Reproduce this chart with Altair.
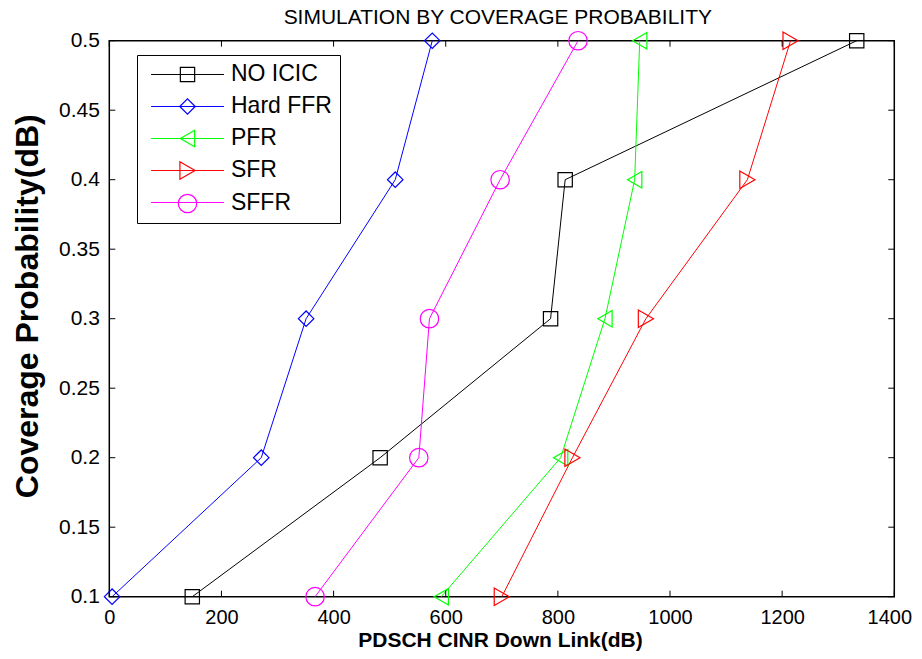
import altair as alt
import pandas as pd

series = ["NO ICIC", "Hard FFR", "PFR", "SFR", "SFFR"]
colors = ["#000000", "#0000FF", "#00FF00", "#FF0000", "#FF00FF"]
shapes = ["square", "diamond", "triangle-left", "triangle-right", "circle"]
marker_sizes = [205, 340, 380, 380, 306]

prob = [0.1, 0.2, 0.3, 0.4, 0.5]
no_icic = [148, 483, 787, 813, 1333]
hard_ffr = [5, 271, 351, 510, 576]
pfr = [592, 805, 884, 937, 946]
sfr = [700, 826, 957, 1138, 1215]
sffr = [367, 552, 571, 697, 836]

x_ticks = [0, 200, 400, 600, 800, 1000, 1200, 1400]
y_ticks = [0.1, 0.15, 0.2, 0.25, 0.3, 0.35, 0.4, 0.45, 0.5]

rows = []
for name, vals in zip(series, [no_icic, hard_ffr, pfr, sfr, sffr]):
    for p, v in zip(prob, vals):
        rows.append({"series": name, "line_key": name + " ", "cinr": v, "prob": p})
df = pd.DataFrame(rows)
line_keys = [n + " " for n in series]

W, H = 785, 556
FONT = "Liberation Sans"

xscale = alt.Scale(domain=[0, 1400], nice=False, zero=False)
yscale = alt.Scale(domain=[0.1, 0.5], nice=False, zero=False)

LEG_X, LEG_Y = 27.7, 14.3
common_leg = dict(
    title=None, orient="none", legendX=LEG_X, legendY=LEG_Y, padding=8,
    labelFont=FONT, labelFontSize=23, labelColor="black",
    symbolSize=380, symbolOffset=31, labelOffset=32, rowPadding=8,
)
# line part of the legend (drawn underneath, with frame)
legend_lines = alt.Legend(
    fillColor="white", strokeColor="black", labelOpacity=0,
    symbolType="M-3.74,0H3.74", symbolStrokeWidth=1, zindex=0, **common_leg,
)
# marker part of the legend (drawn on top, with labels)
legend_marks = alt.Legend(symbolStrokeWidth=1.2, zindex=1, **common_leg)

x_axis = alt.Axis(
    values=x_ticks, format="d", ticks=False, domain=False, grid=False,
    labelFont=FONT, labelFontSize=20, labelColor="black", labelPadding=11,
    labelFlush=False, labelOverlap=False,
    labelOffset={"condition": {"test": "datum.value === 1400", "value": -5}, "value": 0},
    title="PDSCH CINR Down Link(dB)", titleFont=FONT, titleFontSize=21,
    titleFontWeight="bold", titleColor="black", titleX=390.7, titleY=33,
    titleBaseline="top", titleAlign="center",
)
y_axis = alt.Axis(
    values=y_ticks, format="~g", ticks=False, domain=False, grid=False,
    labelFont=FONT, labelFontSize=21, labelColor="black", labelPadding=10,
    labelFlush=False, labelOverlap=False,
    title="Coverage Probability(dB)", titleFont=FONT, titleFontSize=32,
    titleFontWeight="bold", titleColor="black", titleX=-82, titleY=265,
    titleBaseline="middle", titleAlign="center",
)

X = alt.X("cinr:Q", scale=xscale, axis=x_axis)
Y = alt.Y("prob:Q", scale=yscale, axis=y_axis)

base = alt.Chart(df).encode(x=X, y=Y, order=alt.Order("prob:Q"))
lines = base.mark_line(strokeWidth=1).encode(
    color=alt.Color("line_key:N", scale=alt.Scale(domain=line_keys, range=colors), legend=legend_lines),
)
points = base.mark_point(filled=False, opacity=1, strokeWidth=1.2).encode(
    stroke=alt.Stroke("series:N", scale=alt.Scale(domain=series, range=colors), legend=legend_marks),
    shape=alt.Shape("series:N", scale=alt.Scale(domain=series, range=shapes), legend=legend_marks),
    size=alt.Size("series:N", scale=alt.Scale(domain=series, range=marker_sizes), legend=legend_marks),
)

xt = pd.DataFrame({"cinr": x_ticks})
yt = pd.DataFrame({"prob": y_ticks})
TL = 6
bottom_ticks = alt.Chart(xt).mark_rule(color="black", strokeWidth=1).encode(
    x=X, y=alt.value(H), y2=alt.value(H - TL))
top_ticks = alt.Chart(xt).mark_rule(color="black", strokeWidth=1).encode(
    x=X, y=alt.value(0), y2=alt.value(TL))
left_ticks = alt.Chart(yt).mark_rule(color="black", strokeWidth=1).encode(
    y=Y, x=alt.value(0), x2=alt.value(TL))
right_ticks = alt.Chart(yt).mark_rule(color="black", strokeWidth=1).encode(
    y=Y, x=alt.value(W), x2=alt.value(W - TL))

chart = alt.layer(
    lines, points, bottom_ticks, top_ticks, left_ticks, right_ticks
).properties(
    width=W, height=H, background="white",
    autosize=alt.AutoSizeParams(type="none"),
    padding={"left": 101.3, "top": 32.7, "right": 19, "bottom": 54},
    title=alt.TitleParams(
        "SIMULATION BY COVERAGE PROBABILITY", font=FONT, fontSize=21,
        fontWeight="normal", color="black", anchor="middle",
        baseline="alphabetic", offset=0, dy=16, dx=-4,
    ),
).configure_view(stroke="black", strokeWidth=1.5)

chart.save("out.html", embed_options={"renderer": "svg", "actions": False})
